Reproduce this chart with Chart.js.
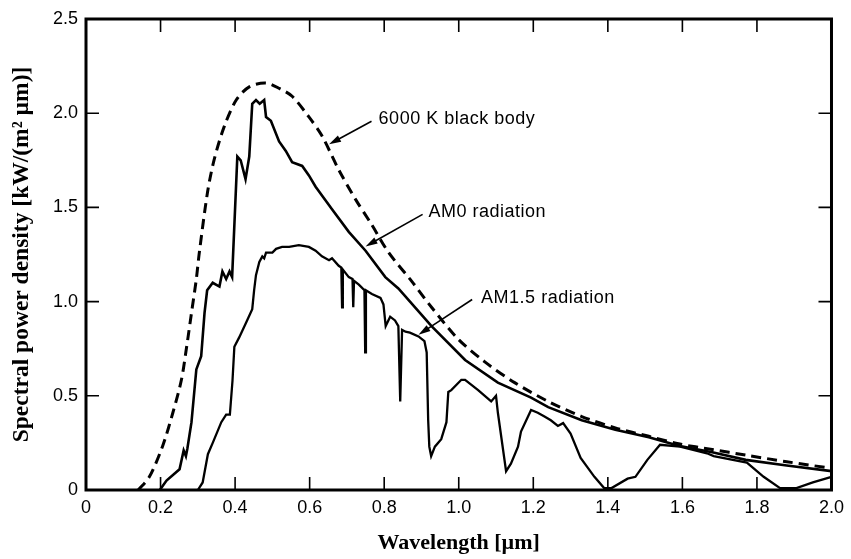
<!DOCTYPE html>
<html lang="en">
<head>
<meta charset="UTF-8">
<title>Solar spectrum</title>
<script src="https://cdn.jsdelivr.net/npm/chart.js"></script>
<style>
  html, body { margin: 0; padding: 0; background: #fff; }
  canvas { display: block; }
</style>
</head>
<body>
<canvas id="spectrum" width="851" height="559"></canvas>
<script>
// values (wavelength in um, kW/(m2 um))
const bbWave = [0.14, 0.17, 0.205, 0.233, 0.256, 0.27, 0.283, 0.296, 0.304, 0.326, 0.344, 0.371, 0.403, 0.438, 0.483, 0.52, 0.553, 0.598, 0.633, 0.678, 0.724, 0.766, 0.812, 0.873, 0.927, 0.999, 1.07, 1.15, 1.24, 1.33, 1.42, 1.51, 1.59, 1.68, 1.77, 1.88, 2.0];
const bbPower = [0, 0.07, 0.23, 0.41, 0.585, 0.76, 0.94, 1.12, 1.26, 1.58, 1.755, 1.93, 2.07, 2.14, 2.16, 2.13, 2.09, 1.98, 1.88, 1.70, 1.54, 1.41, 1.26, 1.11, 0.97, 0.80, 0.68, 0.57, 0.47, 0.39, 0.33, 0.285, 0.245, 0.215, 0.185, 0.15, 0.115];

const am0Wave = [0.198, 0.216, 0.251, 0.262, 0.268, 0.272, 0.283, 0.296, 0.309, 0.318, 0.325, 0.34, 0.358, 0.366, 0.376, 0.385, 0.392, 0.406, 0.415, 0.428, 0.438, 0.446, 0.456, 0.466, 0.478, 0.483, 0.496, 0.518, 0.536, 0.553, 0.58, 0.598, 0.616, 0.66, 0.705, 0.75, 0.803, 0.838, 0.927, 1.017, 1.105, 1.194, 1.24, 1.33, 1.42, 1.51, 1.59, 1.68, 1.77, 1.88, 2.0];
const am0Power = [0, 0.05, 0.11, 0.21, 0.18, 0.22, 0.36, 0.64, 0.71, 0.94, 1.06, 1.10, 1.08, 1.16, 1.12, 1.16, 1.13, 1.77, 1.75, 1.65, 1.77, 2.05, 2.07, 2.05, 2.07, 1.98, 1.96, 1.85, 1.80, 1.74, 1.72, 1.67, 1.61, 1.49, 1.37, 1.27, 1.13, 1.07, 0.87, 0.69, 0.57, 0.49, 0.44, 0.37, 0.32, 0.28, 0.235, 0.2, 0.16, 0.13, 0.10];

const am15Wave = [0.300, 0.313, 0.327, 0.340, 0.363, 0.376, 0.386, 0.393, 0.398, 0.411, 0.430, 0.446, 0.451, 0.456, 0.465, 0.473, 0.478, 0.483, 0.500, 0.510, 0.526, 0.545, 0.571, 0.598, 0.616, 0.633, 0.652, 0.660, 0.678, 0.685, 0.687, 0.689, 0.705, 0.715, 0.717, 0.719, 0.732, 0.747, 0.749, 0.751, 0.767, 0.790, 0.798, 0.804, 0.816, 0.829, 0.838, 0.843, 0.848, 0.857, 0.869, 0.892, 0.908, 0.914, 0.918, 0.921, 0.926, 0.936, 0.953, 0.967, 0.972, 0.980, 1.007, 1.017, 1.052, 1.087, 1.100, 1.105, 1.127, 1.140, 1.159, 1.167, 1.194, 1.212, 1.230, 1.247, 1.266, 1.280, 1.300, 1.327, 1.364, 1.390, 1.410, 1.453, 1.474, 1.506, 1.540, 1.594, 1.666, 1.684, 1.773, 1.818, 1.862, 1.906, 1.950, 2.000];
const am15Power = [0, 0.04, 0.19, 0.25, 0.36, 0.40, 0.40, 0.58, 0.76, 0.81, 0.89, 0.96, 1.06, 1.14, 1.21, 1.24, 1.23, 1.26, 1.26, 1.28, 1.29, 1.29, 1.30, 1.29, 1.27, 1.24, 1.22, 1.23, 1.19, 1.18, 0.97, 1.17, 1.13, 1.12, 0.97, 1.11, 1.09, 1.06, 0.73, 1.06, 1.04, 1.02, 0.985, 0.87, 0.92, 0.90, 0.87, 0.47, 0.85, 0.84, 0.835, 0.815, 0.79, 0.73, 0.37, 0.23, 0.18, 0.23, 0.27, 0.36, 0.52, 0.53, 0.585, 0.585, 0.53, 0.47, 0.50, 0.41, 0.10, 0.14, 0.23, 0.31, 0.425, 0.41, 0.39, 0.37, 0.34, 0.355, 0.30, 0.17, 0.07, 0.01, 0.01, 0.06, 0.07, 0.16, 0.24, 0.23, 0.195, 0.18, 0.145, 0.07, 0.01, 0.01, 0.04, 0.07];

const xTicks = [0, 0.2, 0.4, 0.6, 0.8, 1.0, 1.2, 1.4, 1.6, 1.8, 2.0];
const yTicks = [0, 0.5, 1.0, 1.5, 2.0, 2.5];

// callout labels: text position, arrow tail and arrow tip in data units
const labelText = ['6000 K black body', 'AM0 radiation', 'AM1.5 radiation'];
const labelAt = [[0.785, 1.968], [0.919, 1.473], [1.060, 1.021]];
const arrowFrom = [[0.766, 1.957], [0.903, 1.463], [1.036, 1.011]];
const arrowTo = [[0.652, 1.835], [0.750, 1.293], [0.892, 0.824]];

const toPoints = (xs, ys) => xs.map((x, i) => ({ x: x, y: ys[i] }));
const tickText = v => (Math.abs(v) < 1e-9 ? '0' : v.toFixed(1));

// frame box, inward ticks on all four sides, callouts
const framePlugin = {
    id: 'frame',
    afterDatasetsDraw(chart) {
        const ctx = chart.ctx;
        const a = chart.chartArea;
        const xs = chart.scales.x, ys = chart.scales.y;
        const tick = 13;
        ctx.save();
        ctx.strokeStyle = '#000';
        ctx.lineWidth = 1.6;
        ctx.beginPath();
        xTicks.forEach(v => {
            if (v <= 0 || v >= 2) return;
            const px = xs.getPixelForValue(v);
            ctx.moveTo(px, a.bottom); ctx.lineTo(px, a.bottom - tick);
            ctx.moveTo(px, a.top); ctx.lineTo(px, a.top + tick);
        });
        yTicks.forEach(v => {
            if (v <= 0 || v >= 2.5) return;
            const py = ys.getPixelForValue(v);
            ctx.moveTo(a.left, py); ctx.lineTo(a.left + tick, py);
            ctx.moveTo(a.right, py); ctx.lineTo(a.right - tick, py);
        });
        ctx.stroke();
        ctx.lineWidth = 3;
        ctx.strokeRect(a.left, a.top, a.right - a.left, a.bottom - a.top);

        // callouts
        ctx.fillStyle = '#000';
        ctx.font = '18px "Liberation Sans", Arial, sans-serif';
        ctx.letterSpacing = '0.5px';
        ctx.textAlign = 'left';
        ctx.textBaseline = 'middle';
        labelText.forEach((t, i) => {
            ctx.fillText(t, xs.getPixelForValue(labelAt[i][0]), ys.getPixelForValue(labelAt[i][1]));
            const x0 = xs.getPixelForValue(arrowFrom[i][0]), y0 = ys.getPixelForValue(arrowFrom[i][1]);
            const x1 = xs.getPixelForValue(arrowTo[i][0]), y1 = ys.getPixelForValue(arrowTo[i][1]);
            const ang = Math.atan2(y1 - y0, x1 - x0);
            ctx.lineWidth = 1.6;
            ctx.beginPath();
            ctx.moveTo(x0, y0);
            ctx.lineTo(x1 - 8 * Math.cos(ang), y1 - 8 * Math.sin(ang));
            ctx.stroke();
            ctx.beginPath();
            ctx.moveTo(x1, y1);
            ctx.lineTo(x1 - 12 * Math.cos(ang) + 3.5 * Math.sin(ang), y1 - 12 * Math.sin(ang) - 3.5 * Math.cos(ang));
            ctx.lineTo(x1 - 12 * Math.cos(ang) - 3.5 * Math.sin(ang), y1 - 12 * Math.sin(ang) + 3.5 * Math.cos(ang));
            ctx.closePath();
            ctx.fill();
        });
        ctx.restore();
    }
};

const tickFont = { family: '"Liberation Sans", Arial, sans-serif', size: 18 };
const titleFont = { family: '"Liberation Serif", "Times New Roman", serif', size: 22, weight: 'bold' };
const yTitleFont = { family: '"Liberation Serif", "Times New Roman", serif', size: 23.5, weight: 'bold' };

new Chart(document.getElementById('spectrum'), {
    type: 'line',
    data: {
        datasets: [
            {
                label: '6000 K black body',
                data: toPoints(bbWave, bbPower),
                borderColor: '#000',
                borderWidth: 3,
                borderDash: [10, 6],
                pointRadius: 0,
                tension: 0.3,
                fill: false
            },
            {
                label: 'AM0 radiation',
                data: toPoints(am0Wave, am0Power),
                borderColor: '#000',
                borderWidth: 2.6,
                pointRadius: 0,
                tension: 0,
                fill: false
            },
            {
                label: 'AM1.5 radiation',
                data: toPoints(am15Wave, am15Power),
                borderColor: '#000',
                borderWidth: 2.3,
                pointRadius: 0,
                tension: 0,
                fill: false
            }
        ]
    },
    options: {
        responsive: false,
        animation: false,
        layout: { padding: { top: 19, right: 16, left: 0, bottom: 0 } },
        plugins: {
            legend: { display: false },
            tooltip: { enabled: false }
        },
        scales: {
            x: {
                type: 'linear',
                min: 0,
                max: 2,
                afterFit: s => { s.height = 69; },
                afterBuildTicks: s => { s.ticks = xTicks.map(v => ({ value: v })); },
                grid: { display: false, drawTicks: false },
                border: { display: false },
                ticks: { color: '#000', font: tickFont, padding: 7, maxRotation: 0, callback: v => tickText(v) },
                title: { display: true, text: 'Wavelength [\u00b5m]', color: '#000', font: titleFont, padding: { top: 0, bottom: 2 } }
            },
            y: {
                type: 'linear',
                min: 0,
                max: 2.5,
                afterFit: s => { s.width = 86; },
                afterBuildTicks: s => { s.ticks = yTicks.map(v => ({ value: v })); },
                grid: { display: false, drawTicks: false },
                border: { display: false },
                ticks: { color: '#000', font: tickFont, padding: 8, callback: v => tickText(v) },
                title: { display: true, text: 'Spectral power density [kW/(m\u00b2 \u00b5m)]', color: '#000', font: yTitleFont, padding: { top: 8, bottom: 0 } }
            }
        }
    },
    plugins: [framePlugin]
});
</script>
</body>
</html>
